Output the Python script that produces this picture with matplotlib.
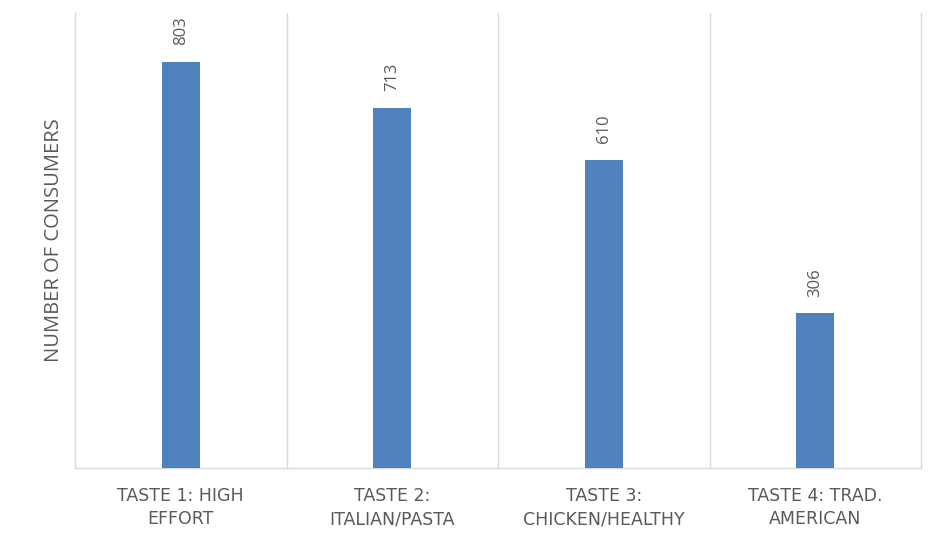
import matplotlib
matplotlib.use("Agg")
import matplotlib.pyplot as plt

categories = ["TASTE 1: HIGH\nEFFORT", "TASTE 2:\nITALIAN/PASTA",
              "TASTE 3:\nCHICKEN/HEALTHY", "TASTE 4: TRAD.\nAMERICAN"]
consumers = [803, 713, 610, 306]

BAR = "#4F81BD"
TEXT = "#595959"
GRID = "#D9D9D9"

plt.rcParams["font.family"] = ["Open Sans", "DejaVu Sans"]

fig = plt.figure(figsize=(9.31, 5.44), dpi=100)
ax = fig.add_axes([75 / 931, 1 - 468 / 544, (921 - 75) / 931, (468 - 13) / 544])

x = range(len(categories))
bars = ax.bar(x, consumers, width=0.18, color=BAR, zorder=3)

for rect, v in zip(bars, consumers):
    ax.annotate(f"{v}", (rect.get_x() + rect.get_width() / 2, v),
                xytext=(0, 12), textcoords="offset points",
                rotation=90, ha="center", va="bottom",
                fontsize=12, color=TEXT)

ax.set_xlim(-0.5, len(categories) - 0.5)
ax.set_ylim(0, 900)
ax.set_yticks([])

ax.set_xticks(list(x))
ax.set_xticklabels(categories, fontsize=12.5, color=TEXT, linespacing=1.35,
                   family="DejaVu Sans")
ax.tick_params(axis="x", length=0, pad=14)

# category separators
ax.set_xticks([i + 0.5 for i in range(len(categories) - 1)], minor=True)
ax.tick_params(axis="x", which="minor", length=0)
ax.grid(axis="x", which="minor", color=GRID, linewidth=1)

ax.spines["top"].set_visible(False)
for side in ("left", "right", "bottom"):
    ax.spines[side].set_color(GRID)
    ax.spines[side].set_linewidth(1)

ax.set_ylabel("NUMBER OF CONSUMERS", fontsize=14.5, color=TEXT, labelpad=8)

fig.savefig("out.png", dpi=100)
